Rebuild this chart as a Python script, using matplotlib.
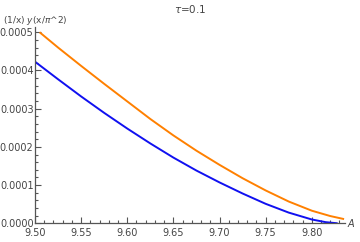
import numpy as np
import matplotlib.pyplot as plt
from matplotlib.ticker import MultipleLocator, FormatStrFormatter

# data
x_blue = [9.500, 9.525, 9.550, 9.575, 9.600, 9.625, 9.650, 9.675, 9.700,
          9.725, 9.750, 9.775, 9.800, 9.815, 9.828]
y_blue = [0.000423, 0.000377, 0.000332, 0.000289, 0.000248, 0.000209, 0.000172,
          0.000138, 0.000107, 0.000078, 0.000051, 0.000028, 0.000010, 0.000003, 0.0]

x_orange = [9.505, 9.525, 9.550, 9.575, 9.600, 9.625, 9.650, 9.675, 9.700,
            9.725, 9.750, 9.775, 9.800, 9.820, 9.835]
y_orange = [0.000500, 0.000460, 0.000412, 0.000365, 0.000319, 0.000273, 0.000230,
            0.000190, 0.000153, 0.000118, 0.000086, 0.000057, 0.000033, 0.000019,
            0.000011]

axis_col = '#555555'
text_col = '#444444'

fig = plt.figure(figsize=(3.6, 2.42), dpi=100)
ax = fig.add_axes([35 / 360, 18.7 / 242, 310 / 360, 196 / 242])

ax.plot(x_orange, y_orange, color='#ff8000', lw=1.4, solid_capstyle='butt')
ax.plot(x_blue, y_blue, color='#1010f0', lw=1.4, solid_capstyle='butt')

ax.set_xlim(9.5, 9.836)
ax.set_ylim(0, 0.000513)

for s in ['top', 'right']:
    ax.spines[s].set_visible(False)
for s in ['left', 'bottom']:
    ax.spines[s].set_color(axis_col)
    ax.spines[s].set_linewidth(0.9)

ax.xaxis.set_major_locator(MultipleLocator(0.05))
ax.xaxis.set_minor_locator(MultipleLocator(0.01))
ax.yaxis.set_major_locator(MultipleLocator(0.0001))
ax.yaxis.set_minor_locator(MultipleLocator(0.00002))
ax.xaxis.set_major_formatter(FormatStrFormatter('%.2f'))
ax.yaxis.set_major_formatter(FormatStrFormatter('%.4f'))
ax.tick_params(which='both', direction='in', color=axis_col, width=0.8,
               labelsize=7, labelcolor=text_col)
ax.tick_params(which='major', length=4)
ax.tick_params(which='minor', length=2)
ax.tick_params(axis='y', which='major', pad=1)
ax.tick_params(axis='x', which='major', pad=3.5)

fig.text(0.528, 0.962, r'$\tau$=0.1', ha='center', va='center', fontsize=7.5, color=text_col)
fig.text(0.008, 0.915, r'(1/x) $y$(x/$\pi$^2)', ha='left', va='center', fontsize=6.5, color=text_col)
fig.text(0.977, 0.08, r'$A$', ha='center', va='center', fontsize=7, color=text_col)

fig.savefig('out.png', dpi=100)
